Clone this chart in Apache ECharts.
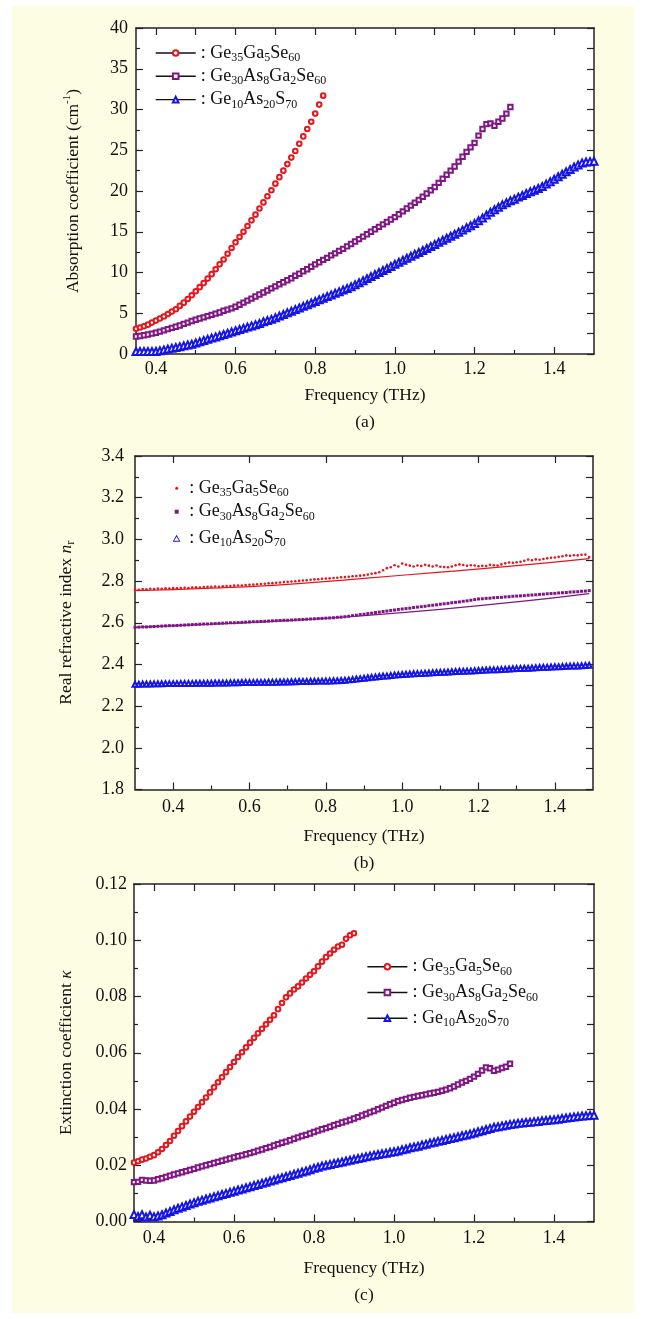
<!DOCTYPE html>
<html>
<head>
<meta charset="utf-8">
<script src="https://cdn.jsdelivr.net/npm/echarts@6.0.0/dist/echarts.min.js"></script>
<style>
  body { margin: 0; background: #fff; }
  #panel { position: absolute; left: 12px; top: 6px; width: 622px; height: 1307px; background: #fdfde4; }
  #main { position: absolute; left: 0; top: 0; width: 646px; height: 1319px; }
</style>
</head>
<body>
<div id="panel"></div>
<div id="main"></div>
<script>
// ---- data ----
var NAMES = ['Ge35Ga5Se60', 'Ge30As8Ga2Se60', 'Ge10As20S70'];

// frequency grid used in panels (a) and (c), THz
var FREQ_AC = [0.35,0.36,0.37,0.38,0.39,0.40,0.41,0.42,0.43,0.44,0.45,0.46,0.47,0.48,0.49,
  0.50,0.51,0.52,0.53,0.54,0.55,0.56,0.57,0.58,0.59,0.60,0.61,0.62,0.63,0.64,0.65,0.66,0.67,0.68,0.69,
  0.70,0.71,0.72,0.73,0.74,0.75,0.76,0.77,0.78,0.79,0.80,0.81,0.82,0.83,0.84,0.85,0.86,0.87,0.88,0.89,
  0.90,0.91,0.92,0.93,0.94,0.95,0.96,0.97,0.98,0.99,1.00,1.01,1.02,1.03,1.04,1.05,1.06,1.07,1.08,1.09,
  1.10,1.11,1.12,1.13,1.14,1.15,1.16,1.17,1.18,1.19,1.20,1.21,1.22,1.23,1.24,1.25,1.26,1.27,1.28,1.29,
  1.30,1.31,1.32,1.33,1.34,1.35,1.36,1.37,1.38,1.39,1.40,1.41,1.42,1.43,1.44,1.45,1.46,1.47,1.48,1.49,1.50];

// frequency grid used in panel (b), THz
var FREQ_B = [0.30,0.31,0.32,0.33,0.34,0.35,0.36,0.37,0.38,0.39,0.40,0.41,0.42,0.43,0.44,0.45,0.46,0.47,0.48,0.49,
  0.50,0.51,0.52,0.53,0.54,0.55,0.56,0.57,0.58,0.59,0.60,0.61,0.62,0.63,0.64,0.65,0.66,0.67,0.68,0.69,
  0.70,0.71,0.72,0.73,0.74,0.75,0.76,0.77,0.78,0.79,0.80,0.81,0.82,0.83,0.84,0.85,0.86,0.87,0.88,0.89,
  0.90,0.91,0.92,0.93,0.94,0.95,0.96,0.97,0.98,0.99,1.00,1.01,1.02,1.03,1.04,1.05,1.06,1.07,1.08,1.09,
  1.10,1.11,1.12,1.13,1.14,1.15,1.16,1.17,1.18,1.19,1.20,1.21,1.22,1.23,1.24,1.25,1.26,1.27,1.28,1.29,
  1.30,1.31,1.32,1.33,1.34,1.35,1.36,1.37,1.38,1.39,1.40,1.41,1.42,1.43,1.44,1.45,1.46,1.47,1.48,1.49];

// (a) absorption coefficient, cm^-1
var ABS_GE35 = [3.1,3.25,3.4,3.6,3.85,4.1,4.35,4.6,4.9,5.2,5.5,5.9,6.3,6.75,7.2,
  7.7,8.2,8.7,9.25,9.8,10.4,11.0,11.6,12.3,13.0,13.7,14.35,15.0,15.7,16.4,17.1,17.85,18.6,19.35,20.1,
  20.9,21.7,22.5,23.3,24.1,24.9,25.8,26.7,27.6,28.5,29.5,30.6,31.7];
var ABS_GE30 = [2.15,2.2,2.3,2.4,2.5,2.6,2.75,2.9,3.05,3.2,3.35,3.5,3.7,3.85,4.05,
  4.2,4.35,4.5,4.65,4.8,4.95,5.1,5.3,5.45,5.6,5.8,6.05,6.3,6.55,6.8,7.05,7.3,7.55,7.8,8.05,
  8.3,8.55,8.8,9.05,9.3,9.6,9.85,10.15,10.4,10.7,11.0,11.25,11.55,11.8,12.1,12.35,12.65,12.9,13.2,13.5,
  13.8,14.1,14.4,14.7,15.0,15.3,15.6,15.9,16.2,16.5,16.8,17.15,17.5,17.85,18.2,18.55,18.9,19.3,19.7,20.1,
  20.5,21.0,21.5,22.0,22.5,23.0,23.6,24.2,24.8,25.35,25.9,26.8,27.6,28.2,28.3,28.0,28.5,28.9,29.5,30.3];
var ABS_GE10 = [0.3,0.3,0.3,0.3,0.3,0.3,0.4,0.5,0.6,0.7,0.8,0.9,1.0,1.1,1.2,
  1.35,1.5,1.65,1.8,1.95,2.1,2.25,2.4,2.55,2.7,2.85,3.0,3.15,3.3,3.45,3.6,3.75,3.95,4.1,4.25,
  4.45,4.65,4.85,5.05,5.25,5.45,5.65,5.85,6.05,6.25,6.45,6.65,6.85,7.05,7.25,7.45,7.65,7.85,8.05,8.25,
  8.5,8.75,9.0,9.25,9.5,9.75,10.0,10.25,10.5,10.75,11.0,11.25,11.5,11.75,12.0,12.25,12.45,12.7,12.95,13.2,
  13.45,13.7,13.95,14.2,14.45,14.7,14.95,15.2,15.5,15.75,16.0,16.35,16.7,17.05,17.4,17.7,18.0,18.3,18.55,18.8,
  19.0,19.25,19.45,19.7,19.9,20.1,20.3,20.55,20.85,21.15,21.45,21.75,22.05,22.35,22.65,22.95,23.2,23.45,23.55,23.6,23.65];

// (b) real refractive index n_r
var NR_GE35 = [2.760,2.758,2.762,2.760,2.763,2.762,2.764,2.763,2.765,2.764,2.766,2.765,2.767,2.768,2.767,2.769,2.770,2.769,2.771,2.772,
  2.772,2.774,2.773,2.775,2.776,2.776,2.778,2.779,2.779,2.781,2.782,2.783,2.785,2.786,2.787,2.789,2.790,2.792,2.793,2.795,
  2.796,2.798,2.799,2.801,2.803,2.804,2.806,2.808,2.809,2.811,2.812,2.813,2.815,2.816,2.818,2.819,2.821,2.823,2.824,2.826,
  2.828,2.831,2.835,2.838,2.842,2.852,2.862,2.866,2.876,2.870,2.884,2.878,2.874,2.870,2.875,2.872,2.878,2.874,2.870,2.875,
  2.869,2.867,2.866,2.870,2.876,2.880,2.877,2.873,2.876,2.875,2.871,2.873,2.872,2.878,2.876,2.875,2.880,2.885,2.889,2.888,
  2.890,2.893,2.897,2.903,2.900,2.904,2.902,2.906,2.909,2.912,2.913,2.916,2.919,2.923,2.921,2.924,2.923,2.926,2.927,2.915];
var NR_GE30 = [2.578,2.579,2.580,2.580,2.581,2.582,2.583,2.584,2.585,2.586,2.586,2.587,2.588,2.589,2.590,2.591,2.592,2.593,2.594,2.594,
  2.595,2.596,2.597,2.598,2.599,2.600,2.600,2.601,2.602,2.603,2.604,2.605,2.605,2.606,2.607,2.608,2.609,2.610,2.611,2.612,
  2.612,2.613,2.614,2.615,2.616,2.617,2.618,2.619,2.620,2.621,2.622,2.623,2.624,2.626,2.627,2.629,2.631,2.634,2.636,2.639,
  2.641,2.644,2.646,2.649,2.651,2.654,2.656,2.659,2.661,2.664,2.666,2.668,2.670,2.673,2.675,2.677,2.679,2.682,2.684,2.686,
  2.689,2.691,2.693,2.696,2.698,2.700,2.703,2.705,2.708,2.711,2.714,2.715,2.717,2.718,2.720,2.721,2.722,2.724,2.725,2.727,
  2.728,2.729,2.730,2.732,2.733,2.734,2.736,2.737,2.739,2.740,2.741,2.743,2.744,2.745,2.747,2.748,2.749,2.751,2.752,2.754];
var NR_GE10 = [2.305,2.305,2.306,2.306,2.306,2.307,2.307,2.307,2.308,2.308,2.308,2.308,2.309,2.309,2.309,2.309,2.310,2.310,2.310,2.310,
  2.310,2.311,2.311,2.311,2.311,2.312,2.312,2.312,2.313,2.313,2.313,2.313,2.314,2.314,2.314,2.315,2.315,2.315,2.316,2.316,
  2.316,2.317,2.317,2.318,2.318,2.318,2.319,2.319,2.320,2.320,2.321,2.321,2.322,2.322,2.323,2.324,2.326,2.328,2.330,2.332,
  2.334,2.336,2.338,2.340,2.342,2.344,2.345,2.347,2.349,2.350,2.352,2.353,2.354,2.355,2.356,2.357,2.358,2.359,2.360,2.361,
  2.362,2.363,2.364,2.365,2.366,2.367,2.367,2.368,2.369,2.370,2.371,2.372,2.373,2.374,2.374,2.375,2.376,2.377,2.378,2.379,
  2.380,2.381,2.382,2.382,2.383,2.384,2.385,2.386,2.387,2.388,2.389,2.389,2.390,2.391,2.392,2.393,2.393,2.394,2.395,2.396];
// fitted curves in (b)
var FIT_FREQ = [0.30, 0.50, 0.70, 0.90, 1.10, 1.30, 1.49];
var FIT_GE35 = [2.754, 2.766, 2.784, 2.813, 2.843, 2.874, 2.908];
var FIT_GE30 = [2.578, 2.593, 2.610, 2.634, 2.664, 2.700, 2.740];

// (c) extinction coefficient kappa
var K_GE35 = [0.0210,0.0214,0.0220,0.0224,0.0230,0.0236,0.0246,0.0258,0.0272,0.0286,0.0305,0.0322,0.0339,0.0356,0.0373,
  0.0390,0.0407,0.0424,0.0441,0.0459,0.0477,0.0495,0.0513,0.0531,0.0549,0.0567,0.0585,0.0602,0.0619,0.0636,0.0653,0.0669,0.0685,0.0701,0.0717,
  0.0733,0.0755,0.0777,0.0797,0.0811,0.0825,0.0836,0.0850,0.0864,0.0877,0.0890,0.0907,0.0924,0.0940,0.0953,0.0966,0.0978,0.0984,0.1005,0.1018,0.1025];
var K_GE30 = [0.0140,0.0141,0.0148,0.0146,0.0145,0.0146,0.0150,0.0154,0.0158,0.0163,0.0167,0.0171,0.0175,0.0179,0.0183,
  0.0187,0.0192,0.0196,0.0200,0.0204,0.0208,0.0212,0.0216,0.0220,0.0224,0.0228,0.0232,0.0235,0.0239,0.0243,0.0247,0.0252,0.0256,0.0261,0.0265,
  0.0270,0.0275,0.0280,0.0284,0.0289,0.0294,0.0299,0.0304,0.0308,0.0313,0.0318,0.0323,0.0328,0.0332,0.0337,0.0342,0.0347,0.0352,0.0356,0.0361,
  0.0366,0.0371,0.0377,0.0382,0.0388,0.0393,0.0399,0.0405,0.0411,0.0417,0.0422,0.0428,0.0432,0.0436,0.0440,0.0443,0.0446,0.0449,0.0452,0.0455,
  0.0458,0.0461,0.0465,0.0469,0.0474,0.0480,0.0487,0.0494,0.0500,0.0507,0.0515,0.0525,0.0537,0.0548,0.0545,0.0536,0.0540,0.0546,0.0550,0.0561];
var K_GE10 = [0.0025,0.0018,0.0024,0.0016,0.0022,0.0017,0.0020,0.0024,0.0030,0.0036,0.0042,0.0047,0.0052,0.0057,0.0062,
  0.0067,0.0072,0.0076,0.0080,0.0084,0.0088,0.0092,0.0096,0.0100,0.0104,0.0108,0.0112,0.0116,0.0120,0.0124,0.0128,0.0132,0.0136,0.0140,0.0144,
  0.0148,0.0152,0.0156,0.0160,0.0164,0.0168,0.0172,0.0176,0.0180,0.0184,0.0189,0.0193,0.0197,0.0200,0.0203,0.0206,0.0209,0.0212,0.0215,0.0218,
  0.0221,0.0224,0.0227,0.0230,0.0233,0.0236,0.0238,0.0241,0.0243,0.0246,0.0248,0.0251,0.0255,0.0258,0.0262,0.0265,0.0268,0.0272,0.0275,0.0279,
  0.0282,0.0285,0.0288,0.0292,0.0295,0.0298,0.0301,0.0305,0.0308,0.0311,0.0315,0.0319,0.0323,0.0327,0.0331,0.0335,0.0337,0.0340,0.0342,0.0345,
  0.0347,0.0349,0.0350,0.0352,0.0353,0.0355,0.0356,0.0358,0.0359,0.0361,0.0362,0.0364,0.0366,0.0368,0.0370,0.0372,0.0373,0.0375,0.0376,0.0377,0.0378];

// tick positions on the frequency axes
var X_LABELS = [0.4, 0.6, 0.8, 1.0, 1.2, 1.4];
var X_MINOR = [0.5, 0.7, 0.9, 1.1, 1.3];
var X_TOP_FINE = [0.4, 0.5, 0.6, 0.7, 0.8, 0.9, 1.0, 1.1, 1.2, 1.3, 1.4];

// ---- styling ----
var FONT = 'Liberation Serif';
var INK = '#222';
var RED = '#e8141c', PURPLE = '#7f1683', BLUE = '#1414e6';

function pairs(freq, vals) {
  return vals.map(function (v, i) { return [freq[i], v]; });
}

function subName(name) {
  return ': ' + name.replace(/(\d+)/g, '{s|$1}');
}

var textRich = {
  s: { fontFamily: FONT, fontSize: 12, lineHeight: 14, verticalAlign: 'bottom', color: '#111' },
  sup: { fontFamily: FONT, fontSize: 11, lineHeight: 13, verticalAlign: 'top', color: '#111' },
  i: { fontFamily: FONT, fontSize: 17.5, fontStyle: 'italic', color: '#111' },
  sub: { fontFamily: FONT, fontSize: 12, lineHeight: 14, verticalAlign: 'bottom', color: '#111' }
};

var lineSt = { color: INK, width: 1.5 };
var tickSt = { color: INK, width: 1.2 };

function xAxesFor(grid, min, max, topTicks, labelMargin, nameGap) {
  return [
    { gridIndex: grid, type: 'value', position: 'bottom', min: min, max: max,
      name: 'Frequency (THz)', nameLocation: 'middle', nameGap: nameGap,
      nameTextStyle: { fontFamily: FONT, fontSize: 17.5, color: '#111' },
      axisLine: { onZero: false, lineStyle: lineSt },
      axisTick: { inside: true, length: 7, customValues: X_LABELS, lineStyle: tickSt },
      axisLabel: { customValues: X_LABELS, margin: labelMargin, fontFamily: FONT, fontSize: 18, color: '#111',
        formatter: function (v) { return v.toFixed(1); } },
      splitLine: { show: false } },
    { gridIndex: grid, type: 'value', position: 'bottom', min: min, max: max,
      axisLine: { show: false, onZero: false },
      axisTick: { inside: true, length: 4, customValues: X_MINOR, lineStyle: tickSt },
      axisLabel: { show: false }, splitLine: { show: false } },
    { gridIndex: grid, type: 'value', position: 'top', min: min, max: max,
      axisLine: { onZero: false, lineStyle: lineSt },
      axisTick: { inside: true, length: 7, customValues: topTicks, lineStyle: tickSt },
      axisLabel: { show: false }, splitLine: { show: false } }
  ];
}

function yAxesFor(grid, min, max, interval, name, nameGap, labelMargin, digits) {
  return [
    { gridIndex: grid, type: 'value', position: 'left', min: min, max: max, interval: interval,
      name: name, nameLocation: 'middle', nameGap: nameGap, nameRotate: 90,
      nameTextStyle: { fontFamily: FONT, fontSize: 17.5, color: '#111', lineHeight: 22, rich: textRich },
      axisLine: { onZero: false, lineStyle: lineSt },
      axisTick: { inside: true, length: 7, lineStyle: tickSt },
      minorTick: { show: true, splitNumber: 2, length: 4, lineStyle: tickSt },
      axisLabel: { margin: labelMargin, fontFamily: FONT, fontSize: 18, color: '#111',
        formatter: function (v) { return v.toFixed(digits); } },
      splitLine: { show: false }, minorSplitLine: { show: false } },
    { gridIndex: grid, type: 'value', position: 'right', min: min, max: max, interval: interval / 2,
      axisLine: { onZero: false, lineStyle: lineSt },
      axisTick: { inside: true, length: 7, lineStyle: tickSt },
      axisLabel: { show: false }, splitLine: { show: false } }
  ];
}

function markerSeries(name, xi, yi, data, symbol, size, color, bw) {
  return { name: name, type: 'line', xAxisIndex: xi, yAxisIndex: yi, data: data,
    symbol: symbol, symbolSize: size, showAllSymbol: true, clip: false,
    lineStyle: { width: 0, opacity: 0 },
    itemStyle: { color: color, borderWidth: bw },
    silent: true, animation: false };
}

var gridBase = { show: true, backgroundColor: '#fff', borderWidth: 0, outerBoundsMode: 'none' };

var B_NAMES = ['b-' + NAMES[0], 'b-' + NAMES[1], 'b-' + NAMES[2]];
var legendText = {
  fontFamily: FONT, fontSize: 18, color: '#111', lineHeight: 22, rich: textRich
};
var legendLine = { color: '#111', width: 1.4, opacity: 1 };

var option = {
  animation: false,
  backgroundColor: 'transparent',
  grid: [
    Object.assign({ left: 136, top: 28, width: 458, height: 326 }, gridBase),
    Object.assign({ left: 135, top: 456, width: 458, height: 333.5 }, gridBase),
    Object.assign({ left: 134, top: 884, width: 460, height: 337.5 }, gridBase)
  ],
  xAxis: [].concat(
    xAxesFor(0, 0.35, 1.5, X_TOP_FINE, 6, 32),
    xAxesFor(1, 0.3, 1.5, X_LABELS, 9, 38),
    xAxesFor(2, 0.35, 1.5, X_TOP_FINE, 8, 38)
  ),
  yAxis: [].concat(
    yAxesFor(0, 0, 40, 5, 'Absorption coefficient (cm{sup|-1})', 52, 8, 0),
    yAxesFor(1, 1.8, 3.4, 0.2, 'Real refractive index {i|n}{sub|r}', 58, 11, 1),
    yAxesFor(2, 0, 0.12, 0.02, 'Extinction coefficient {i|κ}', 57, 7, 2)
  ),
  legend: [
    { left: 155, top: 42, orient: 'vertical', padding: 0, itemWidth: 40, itemHeight: 7, itemGap: 1.3,
      selectedMode: false, data: NAMES, formatter: subName, textStyle: legendText, lineStyle: legendLine },
    { left: 366.7, top: 955.7, orient: 'vertical', padding: 0, itemWidth: 40, itemHeight: 7, itemGap: 3.8,
      selectedMode: false, data: NAMES, formatter: subName, textStyle: legendText, lineStyle: legendLine },
    { left: 175.2, top: 477.3, padding: 0, itemWidth: 3, itemHeight: 3, selectedMode: false,
      data: [{ name: B_NAMES[0], icon: 'circle' }],
      formatter: function (n) { return subName(n.slice(2)); },
      textStyle: Object.assign({ padding: [0, 0, 0, 6] }, legendText) },
    { left: 174.7, top: 500.7, padding: 0, itemWidth: 4, itemHeight: 4, selectedMode: false,
      data: [{ name: B_NAMES[1], icon: 'rect' }],
      formatter: function (n) { return subName(n.slice(2)); },
      textStyle: Object.assign({ padding: [0, 0, 0, 5.6] }, legendText) },
    { left: 172.7, top: 527.3, padding: 0, itemWidth: 8, itemHeight: 7, selectedMode: false,
      data: [{ name: B_NAMES[2], icon: 'path://M5,0 L10,9 L0,9 Z M5,2.6 L1.8,7.8 L8.2,7.8 Z' }],
      formatter: function (n) { return subName(n.slice(2)); },
      textStyle: Object.assign({ padding: [0, 0, 0, 3.6] }, legendText) }
  ],
  graphic: [
    { type: 'text', x: 365, y: 422, style: { text: '(a)', font: '17.5px "Liberation Serif"', fill: '#111', align: 'center', verticalAlign: 'middle' } },
    { type: 'text', x: 364, y: 863, style: { text: '(b)', font: '17.5px "Liberation Serif"', fill: '#111', align: 'center', verticalAlign: 'middle' } },
    { type: 'text', x: 364, y: 1295, style: { text: '(c)', font: '17.5px "Liberation Serif"', fill: '#111', align: 'center', verticalAlign: 'middle' } }
  ],
  series: [
    // panel (a): xAxis 0, yAxis 0
    markerSeries(NAMES[0], 0, 0, pairs(FREQ_AC, ABS_GE35), 'emptyCircle', 4.6, RED, 1.2),
    markerSeries(NAMES[1], 0, 0, pairs(FREQ_AC, ABS_GE30), 'emptyRect', 4.4, PURPLE, 1.2),
    markerSeries(NAMES[2], 0, 0, pairs(FREQ_AC, ABS_GE10), 'emptyTriangle', 7, BLUE, 1.1),
    // panel (b): xAxis 3, yAxis 2
    { type: 'line', xAxisIndex: 3, yAxisIndex: 2, data: pairs(FIT_FREQ, FIT_GE35), smooth: true, showSymbol: false,
      lineStyle: { color: RED, width: 1.2 }, silent: true, z: 1 },
    { type: 'line', xAxisIndex: 3, yAxisIndex: 2, data: pairs(FIT_FREQ, FIT_GE30), smooth: true, showSymbol: false,
      lineStyle: { color: PURPLE, width: 1.2 }, silent: true, z: 1 },
    markerSeries(B_NAMES[0], 3, 2, pairs(FREQ_B, NR_GE35), 'circle', 2.6, RED, 0),
    markerSeries(B_NAMES[1], 3, 2, pairs(FREQ_B, NR_GE30), 'rect', 3, PURPLE, 0),
    markerSeries(B_NAMES[2], 3, 2, pairs(FREQ_B, NR_GE10), 'emptyTriangle', 5, BLUE, 0.8),
    // panel (c): xAxis 6, yAxis 4
    markerSeries(NAMES[0], 6, 4, pairs(FREQ_AC, K_GE35), 'emptyCircle', 4.6, RED, 1.2),
    markerSeries(NAMES[1], 6, 4, pairs(FREQ_AC, K_GE30), 'emptyRect', 4.4, PURPLE, 1.2),
    markerSeries(NAMES[2], 6, 4, pairs(FREQ_AC, K_GE10), 'emptyTriangle', 7, BLUE, 1.1)
  ]
};

var myChart = echarts.init(document.getElementById('main'), null, { renderer: 'canvas' });
myChart.setOption(option);
</script>
</body>
</html>
